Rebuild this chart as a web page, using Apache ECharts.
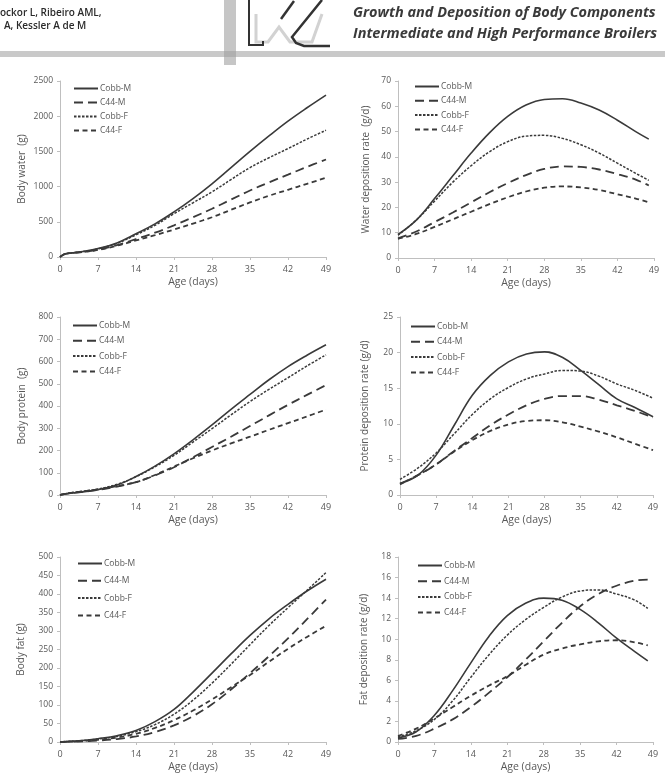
<!DOCTYPE html>
<html>
<head>
<meta charset="utf-8">
<script src="https://cdn.jsdelivr.net/npm/echarts@6/dist/echarts.min.js"></script>
<style>
  html, body { margin: 0; padding: 0; background: #fff; }
  #chart { width: 665px; height: 774px; }
</style>
</head>
<body>
<div id="chart"></div>
<script>
"use strict"

// ages (days)
const ages = [0, 1, 3.5, 7, 10.5, 14, 17.5, 21, 24.5, 28, 31.5, 35, 38.5, 42, 45.5, 49];
const agesRate = [0, 3.5, 7, 10.5, 14, 17.5, 21, 24.5, 28, 31.5, 35, 38.5, 42, 45.5, 48];
const agesProtRate = [0, 3.5, 7, 10.5, 14, 17.5, 21, 24.5, 28, 31.5, 35, 38.5, 42, 45.5, 49];
const names = ["Cobb-M", "C44-M", "Cobb-F", "C44-F"];

// body water (g)
const waterCobbM = [0, 45, 70, 120, 200, 330, 470, 640, 830, 1040, 1270, 1500, 1720, 1930, 2120, 2300];
const waterC44M = [0, 45, 65, 105, 170, 255, 345, 450, 565, 685, 815, 945, 1060, 1170, 1280, 1385];
const waterCobbF = [0, 45, 70, 115, 195, 315, 450, 615, 770, 925, 1100, 1270, 1410, 1540, 1675, 1800];
const waterC44F = [0, 45, 65, 100, 160, 235, 310, 390, 475, 565, 670, 775, 870, 955, 1040, 1125];

// water deposition rate (g/d)
const wRateCobbM = [9.3, 15, 23.5, 32.5, 41.5, 49.5, 56, 60.5, 62.7, 63, 61.3, 58.5, 54.5, 50, 47];
const wRateC44M = [7.8, 10.5, 14.2, 18, 22, 26, 29.6, 32.8, 35.2, 36.2, 36, 35, 33.2, 31, 28.7];
const wRateCobbF = [9, 15, 22.5, 30, 36.5, 42, 46, 48.2, 48.5, 47.3, 44.8, 41.5, 37.5, 33.5, 30.7];
const wRateC44F = [7.6, 9.5, 12.3, 15.3, 18.3, 21.3, 24, 26.3, 27.8, 28.3, 27.9, 26.9, 25.2, 23.5, 22];

// body protein (g)
const protCobbM = [0, 5, 12, 24, 45, 83, 130, 185, 248, 315, 385, 452, 518, 577, 628, 675];
const protC44M = [0, 5, 12, 23, 38, 58, 88, 125, 170, 216, 262, 310, 358, 405, 450, 494];
const protCobbF = [0, 6, 15, 27, 48, 82, 127, 178, 238, 298, 360, 420, 475, 527, 580, 630];
const protC44F = [0, 6, 14, 25, 40, 58, 90, 128, 165, 200, 232, 262, 293, 323, 353, 384];

// protein deposition rate (g/d)
const pRateCobbM = [1.6, 2.8, 5.6, 9.8, 14, 16.8, 18.7, 19.8, 20.1, 19.3, 17.5, 15.5, 13.5, 12.3, 11];
const pRateC44M = [1.6, 2.8, 4.3, 6.2, 8, 9.8, 11.3, 12.6, 13.5, 13.9, 13.9, 13.4, 12.6, 11.8, 10.9];
const pRateCobbF = [2.2, 3.8, 5.9, 8.6, 11.3, 13.5, 15.1, 16.3, 17, 17.5, 17.4, 16.7, 15.6, 14.7, 13.6];
const pRateC44F = [1.5, 2.8, 4.3, 6.1, 7.7, 9, 9.9, 10.4, 10.5, 10.2, 9.6, 8.9, 8.1, 7.2, 6.3];

// body fat (g)
const fatCobbM = [0, 1, 3, 9, 17, 31, 55, 88, 135, 186, 238, 288, 333, 372, 408, 440];
const fatC44M = [0, 0.5, 1.5, 4, 8, 15, 27, 45, 70, 102, 142, 186, 232, 280, 332, 385];
const fatCobbF = [0, 1, 3, 8, 15, 28, 47, 75, 113, 159, 210, 263, 315, 363, 410, 458];
const fatC44F = [0, 1, 2, 6, 12, 22, 38, 59, 85, 115, 148, 181, 217, 252, 284, 314];

// fat deposition rate (g/d)
const fRateCobbM = [0.4, 1, 2.6, 5, 7.7, 10.3, 12.3, 13.5, 14, 13.8, 12.9, 11.6, 10.1, 8.8, 7.9];
const fRateC44M = [0.3, 0.6, 1.3, 2.2, 3.4, 4.8, 6.3, 8, 9.8, 11.6, 13.2, 14.4, 15.2, 15.7, 15.8];
const fRateCobbF = [0.5, 1.1, 2.2, 4, 6.3, 8.5, 10.4, 11.9, 13.1, 14.1, 14.7, 14.8, 14.4, 13.8, 13];
const fRateC44F = [0.6, 1.3, 2.3, 3.4, 4.5, 5.5, 6.4, 7.5, 8.5, 9.1, 9.5, 9.8, 9.9, 9.7, 9.4];

const lineColor = "#3a3a3a";
const labelColor = "#595959";
const axisColor = "#bfbfbf";
const styles = [
    { type: "solid", width: 1.6 },
    { type: [9, 5], width: 1.8 },
    { type: [2.5, 1.5], width: 1.5 },
    { type: [5, 3.5], width: 1.8 }
];

// panels: grid box, y max / interval, y name, legend place
const panels = [
    { grid: { left: 60, right: 339, top: 81, bottom: 517 }, max: 2500, interval: 500, name: "Body water  (g)", gap: 33,
      legend: { left: 73, top: 84, itemGap: 5 }, xs: ages, ys: [waterCobbM, waterC44M, waterCobbF, waterC44F] },
    { grid: { left: 398, right: 11, top: 81, bottom: 516 }, max: 70, interval: 10, name: "Water deposition rate  (g/d)", gap: 27,
      legend: { left: 414, top: 82, itemGap: 5.3 }, xs: agesRate, ys: [wRateCobbM, wRateC44M, wRateCobbF, wRateC44F] },
    { grid: { left: 60, right: 339, top: 317, bottom: 279 }, max: 800, interval: 100, name: "Body protein  (g)", gap: 33,
      legend: { left: 72, top: 321, itemGap: 6.3 }, xs: ages, ys: [protCobbM, protC44M, protCobbF, protC44F] },
    { grid: { left: 400, right: 12, top: 317, bottom: 279 }, max: 25, interval: 5, name: "Protein deposition rate (g/d)", gap: 30,
      legend: { left: 410, top: 322, itemGap: 6.3 }, xs: agesProtRate, ys: [pRateCobbM, pRateC44M, pRateCobbF, pRateC44F] },
    { grid: { left: 60, right: 339, top: 557, bottom: 29 }, max: 500, interval: 50, name: "Body fat (g)", gap: 34,
      legend: { left: 77, top: 559, itemGap: 8.3 }, xs: ages, ys: [fatCobbM, fatC44M, fatCobbF, fatC44F] },
    { grid: { left: 398, right: 12, top: 557, bottom: 28 }, max: 18, interval: 2, name: "Fat deposition rate (g/d)", gap: 29,
      legend: { left: 417, top: 561, itemGap: 6.7 }, xs: agesRate, ys: [fRateCobbM, fRateC44M, fRateCobbF, fRateC44F] }
];

const grids = [], xAxes = [], yAxes = [], legends = [], series = [];
panels.forEach(function (p, idx) {
    grids.push(p.grid);
    xAxes.push({
        type: "value", gridIndex: idx, min: 0, max: 49, interval: 7,
        name: "Age (days)", nameLocation: "middle", nameGap: 20,
        nameTextStyle: { color: labelColor, fontSize: 10.5, fontFamily: "Open Sans" },
        axisLine: { lineStyle: { color: axisColor } },
        axisTick: { show: true, length: 3, lineStyle: { color: axisColor } },
        axisLabel: { color: labelColor, fontSize: 9, margin: 8, fontFamily: "Open Sans" },
        splitLine: { show: false }
    });
    yAxes.push({
        type: "value", gridIndex: idx, min: 0, max: p.max, interval: p.interval,
        name: p.name, nameLocation: "middle", nameGap: p.gap,
        nameTextStyle: { color: labelColor, fontSize: 10, fontFamily: "Open Sans" },
        axisLine: { show: true, lineStyle: { color: axisColor } },
        axisTick: { show: true, length: 3, lineStyle: { color: axisColor } },
        axisLabel: { color: labelColor, fontSize: 8.5, margin: 7, fontFamily: "Open Sans",
            formatter: function (v) { return String(v); } },
        splitLine: { show: false }
    });
    legends.push({
        orient: "vertical", left: p.legend.left, top: p.legend.top, itemGap: p.legend.itemGap,
        itemWidth: 24, itemHeight: 10, padding: 0,
        data: names,
        itemStyle: { opacity: 0 },
        textStyle: { color: labelColor, fontSize: 8.5, fontFamily: "Open Sans", padding: [0, 0, 0, -3] }
    });
    names.forEach(function (n, k) {
        series.push({
            name: n, type: "line", xAxisIndex: idx, yAxisIndex: idx,
            data: p.xs.map(function (x, i) { return [x, p.ys[k][i]]; }),
            symbol: "none", smooth: 0.4, color: lineColor,
            lineStyle: Object.assign({ color: lineColor }, styles[k])
        });
    });
});

// header: authors, logo, running title
const header = [
    { type: "text", left: 0, top: 8, style: { text: "ockor L, Ribeiro AML,", fill: "#2a2a2a", font: "600 10px 'Open Sans'" } },
    { type: "text", left: 4, top: 21, style: { text: "A, Kessler A de M", fill: "#2a2a2a", font: "600 10px 'Open Sans'" } },
    { type: "rect", shape: { x: 0, y: 51, width: 665, height: 6 }, style: { fill: "#c9c9c9" } },
    { type: "rect", shape: { x: 224, y: 0, width: 12, height: 65 }, style: { fill: "rgba(160,160,160,0.6)" } },
    { type: "polyline", shape: { points: [[256, 14], [256, 42], [268, 42], [279, 27], [290, 42], [312, 42], [322, 14]] },
      style: { stroke: "#d2d2d2", lineWidth: 3, fill: null } },
    { type: "polyline", shape: { points: [[249, 0], [249, 45], [263, 45], [263, 41]] },
      style: { stroke: "#333", lineWidth: 2, fill: null } },
    { type: "polyline", shape: { points: [[294, 1], [281, 19]] }, style: { stroke: "#333", lineWidth: 2.5 } },
    { type: "polyline", shape: { points: [[322, 0], [292, 37], [296, 43], [304, 46], [330, 46]] },
      style: { stroke: "#333", lineWidth: 2.5, fill: null } },
    { type: "text", left: 353, top: 5, style: { text: "Growth and Deposition of Body Components", fill: "#3a3a3a", font: "italic bold 14.5px 'Open Sans'" } },
    { type: "text", left: 353, top: 26, style: { text: "Intermediate and High Performance Broilers", fill: "#3a3a3a", font: "italic bold 14.5px 'Open Sans'" } }
];

let myChart = echarts.init(document.getElementById("chart"));
let option = {
    animation: false,
    backgroundColor: "#fff",
    grid: grids,
    xAxis: xAxes,
    yAxis: yAxes,
    legend: legends,
    graphic: header,
    series: series
};
myChart.setOption(option);
</script>
</body>
</html>
